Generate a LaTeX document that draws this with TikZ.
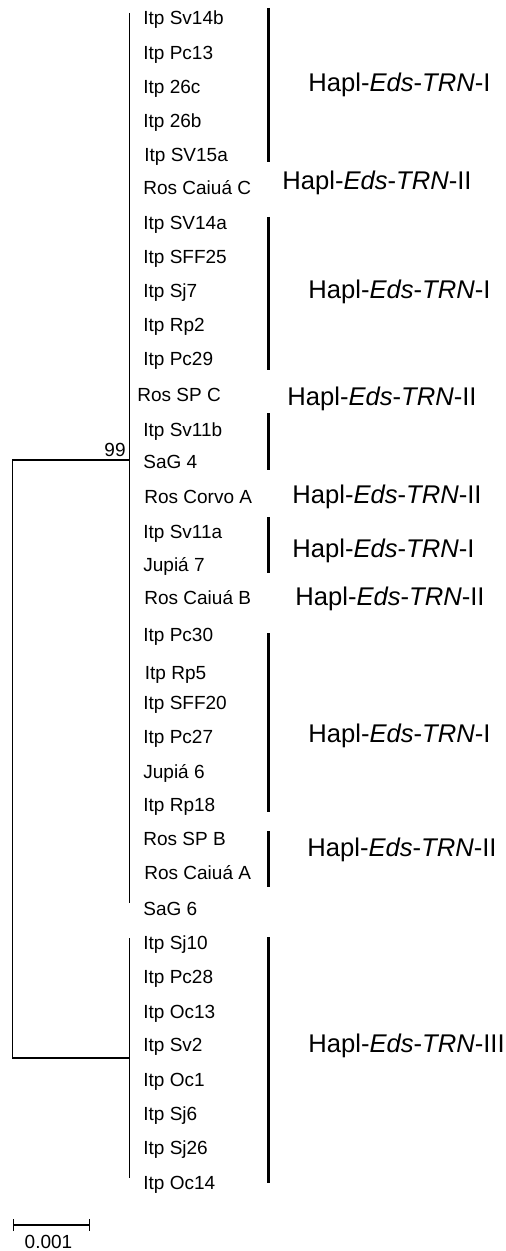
\documentclass[tikz,border=0pt]{standalone}
\usepackage{fontspec}
\setmainfont{Liberation Sans}
\usetikzlibrary{arrows.meta}

\newcommand{\hapl}[1]{Hapl-\textit{Eds}-\textit{TRN}-#1}

\tikzset{
  leaf/.style={anchor=base west,inner sep=0pt,font=\fontsize{9.5}{10}\selectfont},
  grouplab/.style={anchor=base west,inner sep=0pt,font=\fontsize{12.8}{14}\selectfont},
  branch/.style={line width=.6pt},
  groupbar/.style={line width=1.5pt}
}

\begin{document}
\begin{tikzpicture}[x=.5pt,y=-.5pt]
  \useasboundingbox (0,0) rectangle (505,1251);
  % leaves
  \foreach \x/\y/\lab [count=\i] in {143/18.3/Itp Sv14b,143/53.3/Itp Pc13,143/87.3/Itp 26c,
    143/120.7/Itp 26b,144/155/Itp SV15a,143/188.3/Ros Caiuá C,143/222.7/Itp SV14a,
    143/256.7/Itp SFF25,143/290.7/Itp Sj7,143/324.7/Itp Rp2,143/358.7/Itp Pc29,
    137/395/Ros SP C,143/430/Itp Sv11b,143/461.7/SaG 4,144/496.7/Ros Corvo A,
    143/531.7/Itp Sv11a,143/565/Jupiá 7,144/598.3/Ros Caiuá B,143/635/Itp Pc30,
    144.5/673.3/Itp Rp5,143/703.3/Itp SFF20,143/736.7/Itp Pc27,143/771.7/Jupiá 6,
    143/805/Itp Rp18,143/839.3/Ros SP B,144/873.3/Ros Caiuá A,143/909.3/SaG 6,
    143/943.3/Itp Sj10,143/977.3/Itp Pc28,143/1011.7/Itp Oc13,143/1045/Itp Sv2,
    143/1080/Itp Oc1,143/1114.3/Itp Sj6,143/1148.3/Itp Sj26,143/1182.7/Itp Oc14}
    \node[leaf] (l\i) at (\x,\y+6.5) {\lab};
  % tree
  \coordinate (upT) at (129.5,13);
  \coordinate (upB) at (129.5,903);
  \coordinate (upN) at (129.5,460);
  \coordinate (loT) at (129.5,938);
  \coordinate (loB) at (129.5,1178);
  \coordinate (loN) at (129.5,1058);
  \coordinate (rootT) at (12.7,460);
  \coordinate (rootB) at (12.7,1058);
  \draw[branch] (upT) -- (upB);
  \draw[branch] (loT) -- (loB);
  \draw[branch] (upN) -- (rootT) -- (rootB) -- (loN);
  \node[anchor=base east,inner sep=0pt,font=\fontsize{9.5}{10}\selectfont] (boot) at (126,456) {99};
  % haplotype groups
  \foreach \t/\b in {8/162,217/370,413/470,517/573,633/812,831/887,937/1183}
    \draw[groupbar] (268.7,\t) -- (268.7,\b);
  \node[grouplab] (h1) at (308,92) {\hapl{I}};
  \node[grouplab] (h2) at (282,190) {\hapl{II}};
  \node[grouplab] (h3) at (308,299) {\hapl{I}};
  \node[grouplab] (h4) at (287,405) {\hapl{II}};
  \node[grouplab] (h5) at (292,503) {\hapl{II}};
  \node[grouplab] (h6) at (292,557) {\hapl{I}};
  \node[grouplab] (h7) at (295,605) {\hapl{II}};
  \node[grouplab] (h8) at (308,742) {\hapl{I}};
  \node[grouplab] (h9) at (307,856) {\hapl{II}};
  \node[grouplab] (h10) at (308,1052) {\hapl{III}};
  % scale bar
  \coordinate (sbL) at (13,1225);
  \coordinate (sbR) at (90,1225);
  \draw[branch,{Bar[width=6pt]}-{Bar[width=6pt]}] (sbL) -- (sbR);
  \node[anchor=base,inner sep=0pt,font=\fontsize{9.5}{10}\selectfont] (sblab) at (48.5,1248) {0.001};
\end{tikzpicture}
\end{document}
